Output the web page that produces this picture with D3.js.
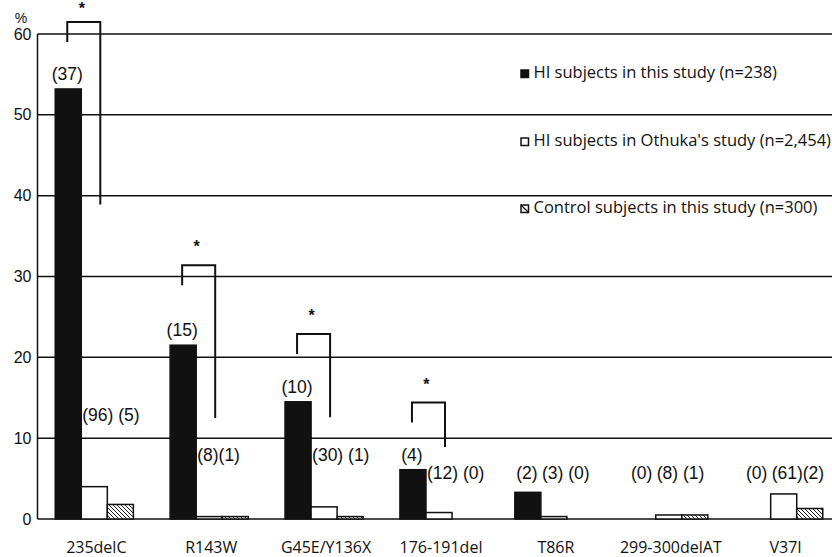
<!DOCTYPE html>
<html><head><meta charset="utf-8">
<script src="https://cdn.jsdelivr.net/npm/d3@7"></script>
<style>html,body{margin:0;padding:0;background:#fff;}svg{display:block;}</style>
</head><body>
<svg id="c" width="832" height="557"></svg>
<script>
// ---------------- DATA ----------------
const categories = ["235delC", "R143W", "G45E/Y136X", "176-191del", "T86R", "299-300delAT", "V37I"];
const seriesNames = ["HI subjects in this study (n=238)", "HI subjects in Othuka's study (n=2,454)", "Control subjects in this study (n=300)"];
const hiThisStudy = [53.2, 21.5, 14.5, 6.1, 3.3, 0, 0];
const hiOthuka = [4.0, 0.3, 1.5, 0.8, 0.3, 0.5, 3.1];
const controlThisStudy = [1.8, 0.3, 0.3, 0, 0, 0.5, 1.3];
const countsThisStudy = [37, 15, 10, 4, 2, 0, 0];
const countsOthuka = [96, 8, 30, 12, 3, 8, 61];
const countsControl = [5, 1, 1, 0, 0, 1, 2];
const yTicks = [0, 10, 20, 30, 40, 50, 60];
const significant = ["235delC", "R143W", "G45E/Y136X", "176-191del"];

// ---------------- LAYOUT ----------------
const svg = d3.select("#c");
const W = 832;
const axisX = 37.5;
const y = d3.scaleLinear().domain([0, 60]).range([519, 34]);
const x = d3.scaleBand().domain(categories).range([38, 840]).paddingInner(0.32).paddingOuter(0.15);
const xs = d3.scaleBand().domain([0, 1, 2]).range([0, x.bandwidth()]);
const series = [hiThisStudy, hiOthuka, controlThisStudy];
// label row (data units) for the white/hatched counts, and spacing between those two counts
const labelRow = [12.1, 7.2, 7.2, 5.0, 5.0, 5.0, 5.0];
const labelSep = [" ", "", " ", " ", " ", " ", ""];
// bracket top level and right-leg end (data units)
const bracketTop = [61.5, 31.4, 22.9, 14.4];
const bracketRightEnd = [38.9, 12.5, 12.6, 8.9];
const numFont = "'Liberation Sans', Arial, sans-serif";
const txtFont = "'Open Sans', Lato, sans-serif";

const defs = svg.append("defs");
const pat = defs.append("pattern").attr("id", "hatch").attr("patternUnits", "userSpaceOnUse")
  .attr("width", 4).attr("height", 4);
pat.append("rect").attr("width", 4).attr("height", 4).attr("fill", "#fff");
pat.append("path").attr("d", "M-1,-1 L5,5 M-1,3 L1,5 M3,-1 L5,1").attr("stroke", "#222").attr("stroke-width", 1);

const fills = ["#111", "#fff", "url(#hatch)"];

// gridlines
svg.append("g").selectAll("line").data(yTicks).join("line")
  .attr("x1", axisX).attr("x2", W).attr("y1", d => y(d)).attr("y2", d => y(d))
  .attr("stroke", "#111").attr("stroke-width", 1.5);
// y axis line
svg.append("line").attr("x1", axisX).attr("x2", axisX).attr("y1", y(60)).attr("y2", y(0))
  .attr("stroke", "#111").attr("stroke-width", 1.5);

// y tick labels via d3 axis
const yAxis = d3.axisLeft(y).tickValues(yTicks).tickSize(0).tickPadding(6).tickFormat(d3.format("d"));
const gy = svg.append("g").attr("transform", `translate(${axisX},0)`).call(yAxis);
gy.select(".domain").remove();
gy.selectAll("text").attr("font-family", numFont).attr("font-size", 16).attr("fill", "#111");
svg.append("text").attr("x", 21).attr("y", 23).attr("text-anchor", "middle")
  .attr("font-family", numFont).attr("font-size", 14).attr("fill", "#111").text("%");

// bars
series.forEach((vals, si) => {
  svg.append("g").selectAll("rect").data(categories).join("rect")
    .attr("x", c => x(c) + xs(si))
    .attr("width", xs.bandwidth())
    .attr("y", (c, i) => y(vals[i]))
    .attr("height", (c, i) => y(0) - y(vals[i]))
    .attr("fill", fills[si])
    .attr("stroke", (c, i) => vals[i] > 0 ? "#111" : "none")
    .attr("stroke-width", 1.5);
});

// category labels
svg.append("g").selectAll("text").data(categories).join("text")
  .attr("x", c => x(c) + x.bandwidth() / 2 + 2)
  .attr("y", 553)
  .attr("text-anchor", "middle")
  .attr("font-family", txtFont).attr("font-size", 16).attr("fill", "#111")
  .text(c => c);

// count labels
const cl = svg.append("g").attr("font-family", numFont).attr("font-size", 17.5).attr("fill", "#111");
categories.forEach((c, i) => {
  const rowY = y(labelRow[i]);
  const by = Math.min(y(hiThisStudy[i]) - 9, rowY);
  cl.append("text").attr("x", x(c) + xs(0) + xs.bandwidth() / 2 - 1).attr("y", by)
    .attr("text-anchor", "middle").text(`(${countsThisStudy[i]})`);
  cl.append("text").attr("x", x(c) + xs(1) + 1).attr("y", rowY)
    .attr("text-anchor", "start").attr("xml:space", "preserve")
    .text(`(${countsOthuka[i]})${labelSep[i]}(${countsControl[i]})`);
});

// significance brackets
significant.forEach((c, k) => {
  const lx = x(c) + xs(0) + xs.bandwidth() / 2 - 1;
  const rx = x(c) + xs(1) + xs.bandwidth() / 2 + 6;
  const top = y(bracketTop[k]);
  svg.append("path")
    .attr("d", `M${lx},${top + 20} V${top} H${rx} V${y(bracketRightEnd[k])}`)
    .attr("fill", "none").attr("stroke", "#111").attr("stroke-width", 2);
  const ay = Math.max(top - 21, 6);
  svg.append("text").attr("x", (lx + rx) / 2 - 2).attr("y", ay + 8)
    .attr("text-anchor", "middle").attr("font-family", numFont).attr("font-weight", "bold")
    .attr("font-size", 16).attr("fill", "#111").text("*");
});

// legend
const legY = [78, 146, 213];
const lg = svg.append("g");
seriesNames.forEach((n, si) => {
  lg.append("rect").attr("x", 521).attr("y", legY[si] - 8).attr("width", 7.5).attr("height", 7.5)
    .attr("fill", si === 0 ? "#111" : "#fff").attr("stroke", "#111").attr("stroke-width", 1.5);
  if (si === 2) {
    lg.append("line").attr("x1", 521).attr("y1", legY[si] - 8).attr("x2", 528.5).attr("y2", legY[si] - 0.5)
      .attr("stroke", "#111").attr("stroke-width", 1.2);
  }
  lg.append("text").attr("x", 533.5).attr("y", legY[si])
    .attr("font-family", txtFont).attr("font-size", 16.5).attr("fill", "#111").text(n);
});
</script>
</body></html>
